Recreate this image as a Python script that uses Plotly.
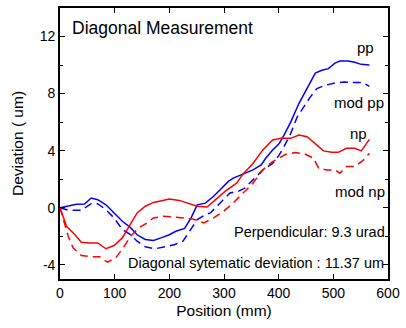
import plotly.graph_objects as go

# pp (blue solid)
pp_x = [0, 15, 30, 45, 57, 69, 84, 99, 114, 129, 141, 156, 171, 186, 200, 212, 228, 240, 251, 266,
        281, 293, 308, 317, 335, 353, 368, 377, 389, 401, 410, 422, 437, 452, 467, 479, 491, 503,
        512, 527, 539, 551, 566]
pp_y = [0, 0.14, 0.24, 0.25, 0.68, 0.56, 0.2, -0.37, -0.95, -1.4, -1.9, -2.23, -2.3, -2.1, -1.9,
        -1.65, -1.45, -0.7, 0.2, 0.32, 0.8, 1.26, 1.84, 2.07, 2.37, 2.65, 3.0, 3.5, 4.05, 4.5, 5.1,
        6.0, 7.3, 8.35, 9.44, 9.63, 9.75, 10.14, 10.28, 10.28, 10.2, 10.05, 10.0]

# mod pp (blue dashed)
modpp_x = [0, 15, 39, 57, 69, 84, 99, 114, 129, 141, 156, 174, 192, 210, 225, 240, 251, 266,
           275, 293, 311, 326, 338, 353, 371, 389, 401, 410, 422, 434, 446, 458, 470, 485, 503,
           521, 539, 554, 566]
modpp_y = [0, -0.18, -0.18, 0.28, 0.28, -0.14, -0.72, -1.53, -1.88, -2.35, -2.74, -2.88, -2.74,
           -2.58, -2.35, -1.53, -0.84, -0.49, -0.37, 0.33, 1.03, 1.14, 1.37, 1.95, 2.65, 3.1, 3.7,
           4.3, 5.2, 6.37, 7.07, 7.77, 8.35, 8.58, 8.74, 8.81, 8.77, 8.77, 8.5]

# np (red solid)
np_x = [0, 12, 27, 39, 54, 69, 84, 99, 114, 129, 141, 156, 171, 186, 200, 218, 236, 251, 269,
        284, 302, 323, 335, 353, 371, 389, 404, 422, 437, 452, 467, 482, 497, 509, 524, 539, 551,
        566]
np_y = [0, -1.3, -1.88, -2.42, -2.47, -2.47, -2.88, -2.65, -2.12, -1.19, -0.37, 0.1, 0.37, 0.49,
        0.6, 0.51, 0.28, 0.1, 0.05, 0.56, 1.14, 1.72, 2.37, 3.1, 4.05, 4.75, 4.86, 4.86, 5.1, 4.98,
        4.51, 3.98, 3.88, 3.88, 4.16, 4.16, 3.98, 4.79]

# mod np (red dashed)
modnp_x = [0, 15, 24, 39, 60, 72, 87, 102, 117, 129, 144, 159, 171, 189, 207, 225, 243, 263,
           281, 299, 317, 335, 353, 371, 389, 413, 431, 449, 464, 473, 488, 503, 512, 524, 539,
           554, 566]
modnp_y = [0, -2.0, -2.82, -3.35, -3.44, -3.44, -3.82, -3.51, -2.74, -2.0, -1.42, -1.07, -0.72,
           -0.6, -0.65, -0.7, -0.8, -1.07, -0.72, -0.26, 0.33, 1.03, 1.72, 2.65, 3.23, 3.74, 3.86,
           3.74, 3.46, 2.77, 2.65, 2.65, 2.42, 2.88, 2.88, 3.3, 3.81]

x_ticks = [0, 100, 200, 300, 400, 500, 600]
y_ticks = [-4, 0, 4, 8, 12]

FONT = "Arial, Liberation Sans, sans-serif"
BLUE = "#0000FF"
RED = "#FF0000"

fig = go.Figure()
fig.add_trace(go.Scatter(x=pp_x, y=pp_y, mode="lines", line=dict(color=BLUE, width=1.5)))
fig.add_trace(go.Scatter(x=modpp_x, y=modpp_y, mode="lines",
                         line=dict(color=BLUE, width=1.5, dash="8px,5px")))
fig.add_trace(go.Scatter(x=np_x, y=np_y, mode="lines", line=dict(color=RED, width=1.5)))
fig.add_trace(go.Scatter(x=modnp_x, y=modnp_y, mode="lines",
                         line=dict(color=RED, width=1.5, dash="8px,5px")))

labels = [
    ("Diagonal Measurement", 18, 12.63, "left", 17.5),
    ("pp", 578, 11.24, "right", 15),
    ("mod pp", 597, 7.35, "right", 15),
    ("np", 565, 5.23, "right", 15),
    ("mod np", 598, 1.12, "right", 15),
    ("Perpendicular: 9.3 urad", 598, -1.67, "right", 14.5),
    ("Diagonal sytematic deviation : 11.37 um", 597, -3.9, "right", 14.5),
]
for txt, x, y, anc, sz in labels:
    fig.add_annotation(x=x, y=y, text=txt, showarrow=False, xanchor=anc, yanchor="middle",
                       font=dict(family=FONT, size=sz, color="black"))

axis_common = dict(showline=True, linecolor="black", linewidth=1.6, mirror="ticks",
                   ticks="inside", ticklen=5, tickcolor="black", tickwidth=1,
                   showgrid=False, zeroline=False,
                   tickfont=dict(family=FONT, size=14, color="black"))

fig.update_xaxes(range=[0, 600], tickvals=x_ticks, ticktext=[str(v) for v in x_ticks],
                 title=dict(text="Position (mm)", font=dict(family=FONT, size=15.5, color="black"),
                            standoff=6),
                 **axis_common)
fig.update_yaxes(range=[-5, 14], tickvals=y_ticks, ticktext=[str(v) for v in y_ticks],
                 minor=dict(tickvals=[-2, 2, 6, 10], ticks="inside", ticklen=3,
                            tickcolor="black", tickwidth=1),
                 title=dict(text="Deviation ( um)", font=dict(family=FONT, size=15.5, color="black"),
                            standoff=12),
                 **axis_common)

fig.update_layout(width=406, height=328, margin=dict(l=60, r=12, t=6, b=49),
                  paper_bgcolor="white", plot_bgcolor="white", showlegend=False,
                  font=dict(family=FONT))

fig.write_html("out.html")
